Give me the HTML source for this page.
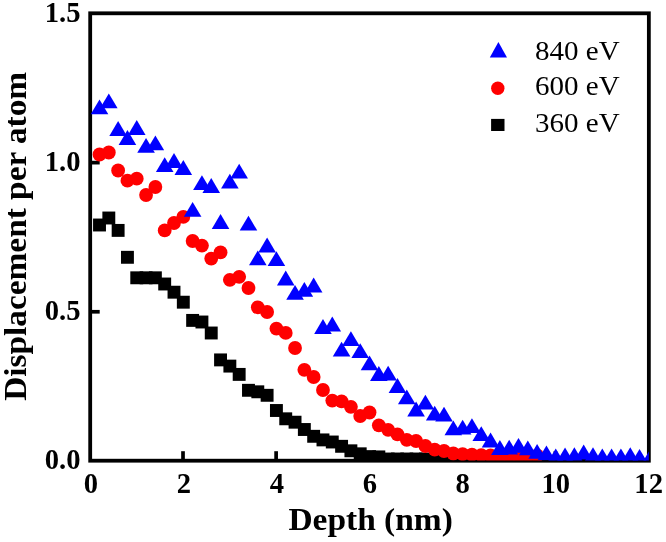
<!DOCTYPE html>
<html lang="en"><head><meta charset="utf-8"><title>Displacement per atom vs Depth</title>
<style>
html,body{margin:0;padding:0;background:#fff;}
body{width:666px;height:542px;overflow:hidden;}
svg{display:block;will-change:transform;}
.b{font-family:"Liberation Serif","Times New Roman",serif;font-weight:bold;fill:#000;}
.r{font-family:"Liberation Serif","Times New Roman",serif;font-weight:normal;fill:#000;}
</style></head><body>
<svg width="666" height="542" viewBox="0 0 666 542">
<rect x="0" y="0" width="666" height="542" fill="#fff"/>
<defs><clipPath id="plot"><rect x="90.2" y="13.3" width="558.65" height="447.2"/></clipPath></defs>
<rect x="90.2" y="13.3" width="558.65" height="447.4" fill="none" stroke="#000" stroke-width="3.8"/>
<line x1="183.01" y1="460.7" x2="183.01" y2="451.2" stroke="#000" stroke-width="3.7"/>
<line x1="276.12" y1="460.7" x2="276.12" y2="451.2" stroke="#000" stroke-width="3.7"/>
<line x1="369.22" y1="460.7" x2="369.22" y2="451.2" stroke="#000" stroke-width="3.7"/>
<line x1="462.33" y1="460.7" x2="462.33" y2="451.2" stroke="#000" stroke-width="3.7"/>
<line x1="555.44" y1="460.7" x2="555.44" y2="451.2" stroke="#000" stroke-width="3.7"/>
<line x1="90.2" y1="311.77" x2="99.7" y2="311.77" stroke="#000" stroke-width="3.7"/>
<line x1="90.2" y1="162.63" x2="99.7" y2="162.63" stroke="#000" stroke-width="3.7"/>
<g clip-path="url(#plot)">
<g fill="#000">
<rect x="93.06" y="218.55" width="12.9" height="12.9"/>
<rect x="102.37" y="211.55" width="12.9" height="12.9"/>
<rect x="111.68" y="223.95" width="12.9" height="12.9"/>
<rect x="120.99" y="250.85" width="12.9" height="12.9"/>
<rect x="130.3" y="271.35" width="12.9" height="12.9"/>
<rect x="139.62" y="271.35" width="12.9" height="12.9"/>
<rect x="148.93" y="271.35" width="12.9" height="12.9"/>
<rect x="158.24" y="277.55" width="12.9" height="12.9"/>
<rect x="167.55" y="285.75" width="12.9" height="12.9"/>
<rect x="176.86" y="295.75" width="12.9" height="12.9"/>
<rect x="186.17" y="313.95" width="12.9" height="12.9"/>
<rect x="195.48" y="315.55" width="12.9" height="12.9"/>
<rect x="204.79" y="326.55" width="12.9" height="12.9"/>
<rect x="214.1" y="353.45" width="12.9" height="12.9"/>
<rect x="223.41" y="359.65" width="12.9" height="12.9"/>
<rect x="232.72" y="367.95" width="12.9" height="12.9"/>
<rect x="242.03" y="383.85" width="12.9" height="12.9"/>
<rect x="251.35" y="385.35" width="12.9" height="12.9"/>
<rect x="260.66" y="388.85" width="12.9" height="12.9"/>
<rect x="269.97" y="404.05" width="12.9" height="12.9"/>
<rect x="279.28" y="412.35" width="12.9" height="12.9"/>
<rect x="288.59" y="415.75" width="12.9" height="12.9"/>
<rect x="297.9" y="423.05" width="12.9" height="12.9"/>
<rect x="307.21" y="429.85" width="12.9" height="12.9"/>
<rect x="316.52" y="433.45" width="12.9" height="12.9"/>
<rect x="325.83" y="435.55" width="12.9" height="12.9"/>
<rect x="335.14" y="439.85" width="12.9" height="12.9"/>
<rect x="344.45" y="444.35" width="12.9" height="12.9"/>
<rect x="353.76" y="447.35" width="12.9" height="12.9"/>
<rect x="363.07" y="450.15" width="12.9" height="12.9"/>
<rect x="372.39" y="450.45" width="12.9" height="12.9"/>
<rect x="381.7" y="452.55" width="12.9" height="12.9"/>
<rect x="391.01" y="452.55" width="12.9" height="12.9"/>
<rect x="400.32" y="452.55" width="12.9" height="12.9"/>
<rect x="409.63" y="452.55" width="12.9" height="12.9"/>
<rect x="418.94" y="452.55" width="12.9" height="12.9"/>
<rect x="428.25" y="453.05" width="12.9" height="12.9"/>
<rect x="437.56" y="453.05" width="12.9" height="12.9"/>
<rect x="446.87" y="453.05" width="12.9" height="12.9"/>
<rect x="456.18" y="453.05" width="12.9" height="12.9"/>
</g><g fill="#ff0000">
<circle cx="99.51" cy="154.5" r="6.9"/>
<circle cx="108.82" cy="152.5" r="6.9"/>
<circle cx="118.13" cy="170.5" r="6.9"/>
<circle cx="127.44" cy="180.7" r="6.9"/>
<circle cx="136.75" cy="178.7" r="6.9"/>
<circle cx="146.06" cy="195" r="6.9"/>
<circle cx="155.38" cy="187" r="6.9"/>
<circle cx="164.69" cy="230.4" r="6.9"/>
<circle cx="174" cy="223" r="6.9"/>
<circle cx="183.31" cy="216.9" r="6.9"/>
<circle cx="192.62" cy="241" r="6.9"/>
<circle cx="201.93" cy="245.6" r="6.9"/>
<circle cx="211.24" cy="258.6" r="6.9"/>
<circle cx="220.55" cy="252.3" r="6.9"/>
<circle cx="229.86" cy="279.8" r="6.9"/>
<circle cx="239.17" cy="276.8" r="6.9"/>
<circle cx="248.48" cy="288" r="6.9"/>
<circle cx="257.8" cy="307.3" r="6.9"/>
<circle cx="267.11" cy="312" r="6.9"/>
<circle cx="276.42" cy="328.6" r="6.9"/>
<circle cx="285.73" cy="332.9" r="6.9"/>
<circle cx="295.04" cy="348" r="6.9"/>
<circle cx="304.35" cy="369.8" r="6.9"/>
<circle cx="313.66" cy="377" r="6.9"/>
<circle cx="322.97" cy="390" r="6.9"/>
<circle cx="332.28" cy="400.6" r="6.9"/>
<circle cx="341.59" cy="401.3" r="6.9"/>
<circle cx="350.9" cy="406.8" r="6.9"/>
<circle cx="360.21" cy="416" r="6.9"/>
<circle cx="369.52" cy="412.5" r="6.9"/>
<circle cx="378.84" cy="425.3" r="6.9"/>
<circle cx="388.15" cy="429.8" r="6.9"/>
<circle cx="397.46" cy="434.3" r="6.9"/>
<circle cx="406.77" cy="439.8" r="6.9"/>
<circle cx="416.08" cy="441" r="6.9"/>
<circle cx="425.39" cy="446" r="6.9"/>
<circle cx="434.7" cy="449.7" r="6.9"/>
<circle cx="444.01" cy="451" r="6.9"/>
<circle cx="453.32" cy="453.5" r="6.9"/>
<circle cx="462.63" cy="454.2" r="6.9"/>
<circle cx="471.94" cy="454.7" r="6.9"/>
<circle cx="481.25" cy="455.2" r="6.9"/>
<circle cx="490.57" cy="455.4" r="6.9"/>
<circle cx="499.88" cy="455.5" r="6.9"/>
<circle cx="509.19" cy="455.5" r="6.9"/>
<circle cx="518.5" cy="455.5" r="6.9"/>
<circle cx="527.81" cy="455.3" r="6.9"/>
<circle cx="537.12" cy="455.5" r="6.9"/>
</g><g fill="#0000ff">
<polygon points="99.51,99.5 108.31,114.3 90.71,114.3"/>
<polygon points="108.82,93.5 117.62,108.3 100.02,108.3"/>
<polygon points="118.13,121.1 126.93,135.9 109.33,135.9"/>
<polygon points="127.44,130.1 136.24,144.9 118.64,144.9"/>
<polygon points="136.75,120.1 145.55,134.9 127.95,134.9"/>
<polygon points="146.06,137.9 154.87,152.7 137.26,152.7"/>
<polygon points="155.38,135.4 164.18,150.2 146.58,150.2"/>
<polygon points="164.69,157.3 173.49,172.1 155.89,172.1"/>
<polygon points="174,153.1 182.8,167.9 165.2,167.9"/>
<polygon points="183.31,160.1 192.11,174.9 174.51,174.9"/>
<polygon points="192.62,201.9 201.42,216.7 183.82,216.7"/>
<polygon points="201.93,175.3 210.73,190.1 193.13,190.1"/>
<polygon points="211.24,178.1 220.04,192.9 202.44,192.9"/>
<polygon points="220.55,214.1 229.35,228.9 211.75,228.9"/>
<polygon points="229.86,173.8 238.66,188.6 221.06,188.6"/>
<polygon points="239.17,163.8 247.97,178.6 230.37,178.6"/>
<polygon points="248.48,215.8 257.28,230.6 239.68,230.6"/>
<polygon points="257.8,250.5 266.6,265.3 249,265.3"/>
<polygon points="267.11,237.6 275.91,252.4 258.31,252.4"/>
<polygon points="276.42,251.3 285.22,266.1 267.62,266.1"/>
<polygon points="285.73,270.6 294.53,285.4 276.93,285.4"/>
<polygon points="295.04,285 303.84,299.8 286.24,299.8"/>
<polygon points="304.35,282 313.15,296.8 295.55,296.8"/>
<polygon points="313.66,277.6 322.46,292.4 304.86,292.4"/>
<polygon points="322.97,319.1 331.77,333.9 314.17,333.9"/>
<polygon points="332.28,316.6 341.08,331.4 323.48,331.4"/>
<polygon points="341.59,341.8 350.39,356.6 332.79,356.6"/>
<polygon points="350.9,331.2 359.7,346 342.1,346"/>
<polygon points="360.21,343.3 369.01,358.1 351.41,358.1"/>
<polygon points="369.52,355.5 378.32,370.3 360.72,370.3"/>
<polygon points="378.84,366.1 387.64,380.9 370.04,380.9"/>
<polygon points="388.15,365.8 396.95,380.6 379.35,380.6"/>
<polygon points="397.46,378.1 406.26,392.9 388.66,392.9"/>
<polygon points="406.77,389.4 415.57,404.2 397.97,404.2"/>
<polygon points="416.08,401.6 424.88,416.4 407.28,416.4"/>
<polygon points="425.39,394.7 434.19,409.5 416.59,409.5"/>
<polygon points="434.7,405.8 443.5,420.6 425.9,420.6"/>
<polygon points="444.01,406.8 452.81,421.6 435.21,421.6"/>
<polygon points="453.32,420.5 462.12,435.3 444.52,435.3"/>
<polygon points="462.63,419.7 471.43,434.5 453.83,434.5"/>
<polygon points="471.94,418.3 480.74,433.1 463.14,433.1"/>
<polygon points="481.25,426.2 490.06,441 472.45,441"/>
<polygon points="490.57,432.6 499.37,447.4 481.77,447.4"/>
<polygon points="499.88,440.1 508.68,454.9 491.08,454.9"/>
<polygon points="509.19,439.8 517.99,454.6 500.39,454.6"/>
<polygon points="518.5,437.9 527.3,452.7 509.7,452.7"/>
<polygon points="527.81,440.4 536.61,455.2 519.01,455.2"/>
<polygon points="537.12,443.9 545.92,458.7 528.32,458.7"/>
<polygon points="546.43,445.4 555.23,460.2 537.63,460.2"/>
<polygon points="555.74,448.4 564.54,463.2 546.94,463.2"/>
<polygon points="565.05,447.6 573.85,462.4 556.25,462.4"/>
<polygon points="574.36,447.3 583.16,462.1 565.56,462.1"/>
<polygon points="583.67,444.6 592.47,459.4 574.87,459.4"/>
<polygon points="592.99,447.3 601.78,462.1 584.19,462.1"/>
<polygon points="602.3,448.4 611.1,463.2 593.5,463.2"/>
<polygon points="611.61,448.4 620.41,463.2 602.81,463.2"/>
<polygon points="620.92,448.4 629.72,463.2 612.12,463.2"/>
<polygon points="630.23,447.3 639.03,462.1 621.43,462.1"/>
<polygon points="639.54,449.1 648.34,463.9 630.74,463.9"/>
<polygon points="648.85,451.6 657.65,466.4 640.05,466.4"/>
</g></g>
<text class="b" x="80.5" y="469.4" font-size="28.6" text-anchor="end">0.0</text>
<text class="b" x="80.5" y="320.27" font-size="28.6" text-anchor="end">0.5</text>
<text class="b" x="80.5" y="171.13" font-size="28.6" text-anchor="end">1.0</text>
<text class="b" x="80.5" y="22" font-size="28.6" text-anchor="end">1.5</text>
<text class="b" x="91" y="493.2" font-size="28.6" text-anchor="middle">0</text>
<text class="b" x="183.94" y="493.2" font-size="28.6" text-anchor="middle">2</text>
<text class="b" x="276.88" y="493.2" font-size="28.6" text-anchor="middle">4</text>
<text class="b" x="369.82" y="493.2" font-size="28.6" text-anchor="middle">6</text>
<text class="b" x="462.76" y="493.2" font-size="28.6" text-anchor="middle">8</text>
<text class="b" x="555.7" y="493.2" font-size="28.6" text-anchor="middle">10</text>
<text class="b" x="648.64" y="493.2" font-size="28.6" text-anchor="middle">12</text>
<text class="b" transform="translate(370.6 529.5) scale(1.097 1)" font-size="30.5" text-anchor="middle">Depth (nm)</text>
<text class="b" transform="translate(26 236.3) rotate(-90) scale(1.093 1)" font-size="30.5" text-anchor="middle">Displacement per atom</text>
<polygon fill="#0000ff" points="498.4,42.1 507,57.6 489.8,57.6"/>
<circle fill="#ff0000" cx="497.8" cy="88.3" r="6.7"/>
<rect fill="#000" x="491.1" y="118.9" width="13.4" height="12.1"/>
<text class="r" transform="translate(535 59.5) scale(1.06 1)" font-size="27.4">840 eV</text>
<text class="r" transform="translate(535 95.3) scale(1.06 1)" font-size="27.4">600 eV</text>
<text class="r" transform="translate(535 131.6) scale(1.06 1)" font-size="27.4">360 eV</text>
</svg></body></html>
